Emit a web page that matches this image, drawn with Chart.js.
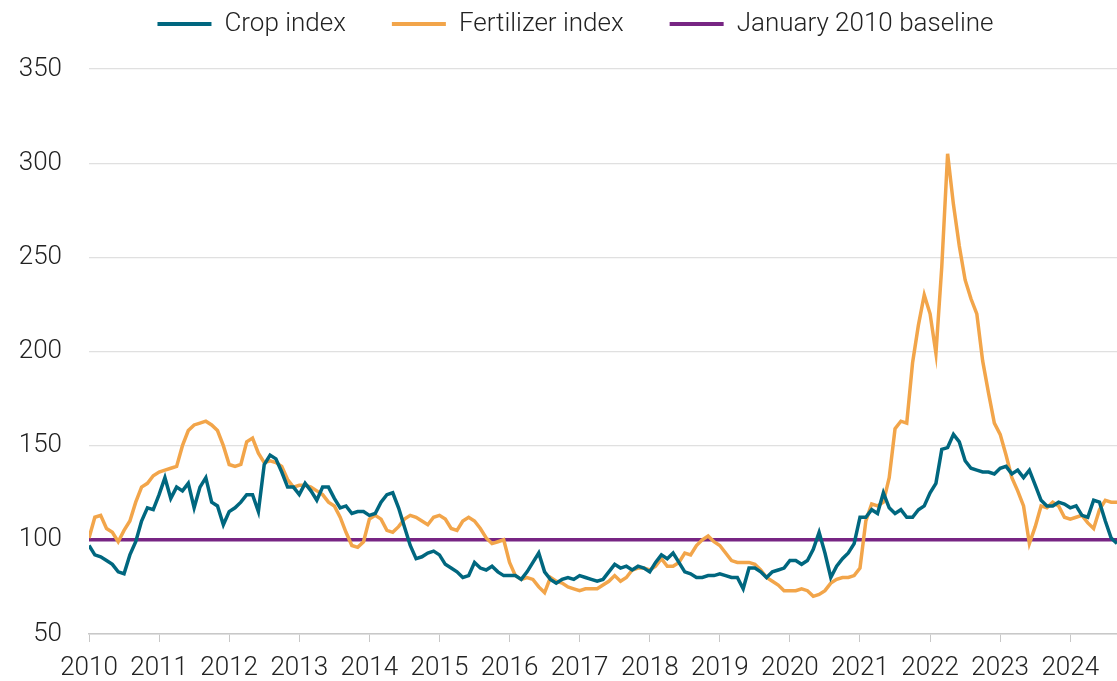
<!DOCTYPE html>
<html>
<head>
<meta charset="utf-8">
<script src="https://cdn.jsdelivr.net/npm/chart.js@4/dist/chart.umd.min.js"></script>
<style>
  html, body { margin: 0; padding: 0; background: #fff; }
  #wrap { width: 1117px; height: 681px; }
</style>
</head>
<body>
<div id="wrap"><canvas id="myChart" width="1117" height="681"></canvas></div>
<script>
// ---------- data (monthly, starting January 2010) ----------
const startYear = 2010;
const yearTicks = [2010, 2011, 2012, 2013, 2014, 2015, 2016, 2017, 2018, 2019, 2020, 2021, 2022, 2023, 2024];
const yTicks = [50, 100, 150, 200, 250, 300, 350];
const baselineValue = 100;

const cropIndex = [
  97, 92, 91, 89, 87, 83, 82, 92, 99, 110, 117, 116, // 2010
  124, 133, 122, 128, 126, 130, 117, 128, 133, 120, 118, 108, // 2011
  115, 117, 120, 124, 124, 115, 140, 145, 143, 136, 128, 128, // 2012
  124, 130, 126, 121, 128, 128, 122, 117, 118, 114, 115, 115, // 2013
  113, 114, 120, 124, 125, 117, 107, 97, 90, 91, 93, 94, // 2014
  92, 87, 85, 83, 80, 81, 88, 85, 84, 86, 83, 81, // 2015
  81, 81, 79, 83, 88, 93, 83, 79, 77, 79, 80, 79, // 2016
  81, 80, 79, 78, 79, 83, 87, 85, 86, 84, 86, 85, // 2017
  83, 88, 92, 90, 93, 88, 83, 82, 80, 80, 81, 81, // 2018
  82, 81, 80, 80, 74, 85, 85, 83, 80, 83, 84, 85, // 2019
  89, 89, 87, 89, 95, 104, 93, 80, 86, 90, 93, 98, // 2020
  112, 112, 116, 114, 125, 117, 114, 116, 112, 112, 116, 118, // 2021
  125, 130, 148, 149, 156, 152, 142, 138, 137, 136, 136, 135, // 2022
  138, 139, 135, 137, 133, 137, 129, 121, 118, 118, 120, 119, // 2023
  117, 118, 113, 112, 121, 120, 110, 101, 98 // 2024
];

const fertilizerIndex = [
  101, 112, 113, 106, 104, 99, 105, 110, 120, 128, 130, 134, // 2010
  136, 137, 138, 139, 150, 158, 161, 162, 163, 161, 158, 150, // 2011
  140, 139, 140, 152, 154, 146, 141, 142, 141, 139, 132, 128, // 2012
  129, 129, 128, 126, 124, 120, 118, 112, 104, 97, 96, 99, // 2013
  111, 113, 111, 105, 104, 107, 111, 113, 112, 110, 108, 112, // 2014
  113, 111, 106, 105, 110, 112, 110, 106, 101, 98, 99, 100, // 2015
  88, 81, 79, 80, 79, 75, 72, 80, 78, 77, 75, 74, // 2016
  73, 74, 74, 74, 76, 78, 81, 78, 80, 84, 85, 85, // 2017
  84, 86, 90, 86, 86, 88, 93, 92, 97, 100, 102, 99, // 2018
  97, 93, 89, 88, 88, 88, 87, 84, 80, 78, 76, 73, // 2019
  73, 73, 74, 73, 70, 71, 73, 77, 79, 80, 80, 81, // 2020
  85, 110, 119, 118, 120, 133, 159, 163, 162, 194, 214, 230, // 2021
  220, 199, 245, 305, 278, 256, 238, 228, 220, 195, 178, 162, // 2022
  156, 145, 133, 126, 118, 98, 107, 118, 117, 120, 118, 112, // 2023
  111, 112, 113, 109, 106, 116, 121, 120, 120 // 2024
];

// x in decimal years
const toPoints = (arr) => arr.map((v, i) => ({ x: startYear + i / 12, y: v }));
const lastX = startYear + (cropIndex.length - 1) / 12;

const teal = "#00677f";
const orange = "#f2a54a";
const purple = "#772583";

Chart.defaults.font.family = "Roboto, 'Liberation Sans', sans-serif";
Chart.defaults.font.weight = 300;
Chart.defaults.font.size = 26;
Chart.defaults.color = "#222";

// legend: wide gaps between items but sitting close to the top edge
const legendPlace = {
  id: "legendPlace",
  beforeLayout(chart) {
    const lg = chart.legend;
    if (lg && !lg._patched) {
      const fit = lg.fit;
      lg.fit = function () {
        fit.call(this);
        this.height = 69;
      };
      lg._patched = true;
    }
  },
  afterLayout(chart) {
    const lg = chart.legend;
    lg.top = -35;
    lg.height = lg.bottom - lg.top;
    lg.left += 8;
    lg.right += 8;
  },
};

const ctx = document.getElementById("myChart").getContext("2d");
const chart = new Chart(ctx, {
  type: "line",
  data: {
    datasets: [
      {
        label: "Crop index",
        data: toPoints(cropIndex),
        borderColor: teal,
        backgroundColor: teal,
        borderWidth: 3.5,
        pointRadius: 0,
        tension: 0,
      },
      {
        label: "Fertilizer index",
        data: toPoints(fertilizerIndex),
        borderColor: orange,
        backgroundColor: orange,
        borderWidth: 3.5,
        pointRadius: 0,
        tension: 0,
      },
      {
        label: "January 2010 baseline",
        data: [
          { x: startYear, y: baselineValue },
          { x: lastX, y: baselineValue },
        ],
        borderColor: purple,
        backgroundColor: purple,
        borderWidth: 3.5,
        pointRadius: 0,
      },
    ],
  },
  plugins: [legendPlace],
  options: {
    responsive: false,
    animation: false,
    layout: { autoPadding: false, padding: { left: 18, right: 0, top: 0, bottom: 0 } },
    plugins: {
      tooltip: { enabled: false },
      legend: {
        position: "top",
        labels: {
          boxWidth: 54,
          boxHeight: 4,
          padding: 46,
          font: { size: 26, weight: 300 },
          generateLabels(c) {
            const items = Chart.defaults.plugins.legend.labels.generateLabels(c);
            items.forEach((it) => { it.lineWidth = 0; });
            return items;
          },
        },
      },
    },
    scales: {
      x: {
        type: "linear",
        min: startYear,
        max: lastX,
        afterBuildTicks(axis) {
          axis.ticks = yearTicks.map((v) => ({ value: v }));
        },
        afterFit(axis) {
          axis.height = 47;
        },
        ticks: {
          autoSkip: false,
          maxRotation: 0,
          padding: 11,
          callback: (v) => String(v),
        },
        grid: {
          drawOnChartArea: false,
          drawTicks: true,
          tickLength: 8,
          color: "#c8c8c8",
        },
        border: { display: true, color: "#c8c8c8", width: 1.5 },
      },
      y: {
        min: 50,
        max: 350,
        afterBuildTicks(axis) {
          axis.ticks = yTicks.map((v) => ({ value: v }));
        },
        afterFit(axis) {
          axis.width = 71;
        },
        ticks: { padding: 27 },
        grid: { color: "#e0e0e0", lineWidth: 1.2, drawTicks: false },
        border: { display: false },
      },
    },
  },
});
</script>
</body>
</html>
